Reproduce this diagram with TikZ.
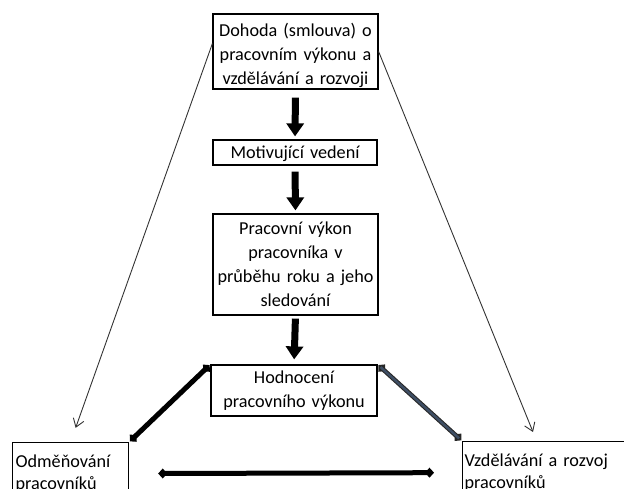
\documentclass[tikz,border=0pt]{standalone}
\usepackage{fontspec}
\setmainfont{Carlito}
\usetikzlibrary{arrows.meta}
\definecolor{slate}{RGB}{62,78,100}

\begin{document}
\begin{tikzpicture}[x=1pt,y=-1pt,
  font=\fontsize{18.2}{24}\selectfont,
  box/.style={draw=black,line width=1.2pt,align=center,inner xsep=2pt,inner ysep=0pt},
  sidebox/.style={box,align=left,anchor=north west},
  flow/.style={line width=7pt,-{Triangle[width=17pt,length=13pt]}},
  thin/.style={line width=0.9pt,draw=black!80,-{Straight Barb[length=8pt,width=11pt]}},
  bond/.style={line width=5pt,{Diamond[length=9pt,width=10pt]}-{Diamond[length=9pt,width=10pt]}}]
\useasboundingbox (0,0) rectangle (624,489);
\clip (0,0) rectangle (624,489);
\node[box,text width=161pt,minimum height=75pt] (dohoda) at (295.5,51.5) {\rule{0pt}{22pt}Dohoda (smlouva) o\\pracovním výkonu a\\vzdělávání a rozvoji};
\node[box,text width=160pt,minimum height=25pt,text depth=1pt] (motiv) at (295,152.5) {Motivující vedení};
\node[box,text width=161pt,minimum height=101pt] (vykon) at (295.5,264.5) {Pracovní výkon\\pracovníka v\\průběhu roku a jeho\\sledování};
\node[box,text width=162pt,minimum height=51pt] (hodn) at (294,390.5) {Hodnocení\\pracovního výkonu};
\node[sidebox,text width=110pt,minimum height=62pt,inner xsep=3pt] (odm) at (12,442) {Odměňování\\[-2pt]pracovníků};
\node[sidebox,text width=180pt,minimum height=62pt] (vzd) at (462,441) {Vzdělávání a rozvoj\\[-2pt]pracovníků};
\coordinate (vzdtip) at (533,432);
\draw[flow,shorten <=8pt,shorten >=3pt] (dohoda.south) -- (motiv.north);
\draw[flow,shorten <=6pt,shorten >=3pt] (motiv.south) -- (vykon.north);
\draw[flow,shorten <=3pt,shorten >=5pt] (vykon.south) -- (hodn.north);
\draw[thin,shorten >=15pt] ([yshift=8pt]dohoda.west) -- (odm.north);
\draw[thin] (dohoda.east) -- (vzdtip);
\draw[bond,shorten <=1pt,shorten >=1pt] (hodn.north west) -- (odm.north east);
\draw[bond,line width=4.5pt,draw=black!85,shorten <=1pt,shorten >=1pt,
  postaction={draw=slate,line width=2.4pt,-,shorten <=4pt,shorten >=4pt}] (hodn.north east) -- (vzd.north west);
\draw[bond,shorten <=29pt,shorten >=28pt] (odm.east) -- (vzd.west);
\end{tikzpicture}
\end{document}
